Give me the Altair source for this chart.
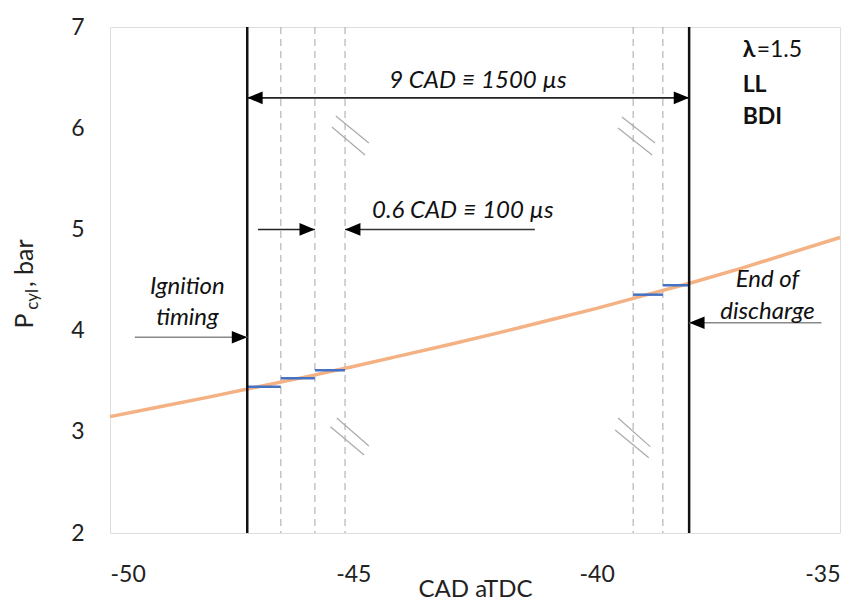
import altair as alt
import pandas as pd

# ---- data ----
cad_curve = [-50, -49, -48, -47, -46, -45, -44, -43, -42, -41, -40, -39, -38, -37, -36, -35]
p_curve = [3.15, 3.245, 3.34, 3.44, 3.54, 3.645, 3.755, 3.865, 3.98, 4.10, 4.22, 4.35, 4.48, 4.62, 4.77, 4.92]

seg_start = [-47.18, -46.49, -45.79, -39.25, -38.64]
seg_end = [-46.49, -45.79, -45.17, -38.64, -38.10]
seg_p = [3.446, 3.529, 3.608, 4.355, 4.448]

dashed_x = [-46.49, -45.79, -45.17, -39.25, -38.64]
event_x = [-47.18, -38.10]

# arrows: line from tail to tip, head at tip
arrow_x = [-47.18, -47.18, -46.96, -41.27, -49.49, -35.38]
arrow_x2 = [-38.10, -38.10, -45.79, -45.17, -47.18, -38.10]
arrow_y = [6.30, 6.30, 5.00, 5.00, 3.934, 4.078]
arrow_tip_x = [-47.18, -38.10, -45.79, -45.17, -47.18, -38.10]
arrow_dir = ["left", "right", "right", "left", "right", "left"]
arrow_color = ["#222222", "#222222", "#222222", "#333333", "#888888", "#888888"]

# break marks "//"
hash_x = [-45.44, -45.36, -39.56, -39.48, -45.34, -45.47, -39.56, -39.62]
hash_x2 = [-44.76, -44.68, -38.86, -38.80, -44.68, -44.78, -38.90, -38.93]
hash_y = [6.012, 6.121, 6.002, 6.111, 3.136, 3.050, 3.136, 3.018]
hash_y2 = [5.735, 5.854, 5.735, 5.854, 2.860, 2.771, 2.853, 2.744]

ital_text = ["9 CAD \u2261 1500 \u00b5s", "0.6 CAD \u2261 100 \u00b5s", "Ignition", "timing", "End of", "discharge"]
ital_x = [-42.44, -42.75, -48.41, -48.41, -36.49, -36.49]
ital_y = [6.47, 5.18, 4.434, 4.125, 4.50, 4.187]

label_text = ["\u03bb", "LL", "BDI"]
label_y = [6.77, 6.43, 6.11]
label_x = -37.0

FONT = "Lato"

xs = alt.Scale(domain=[-50, -35], nice=False)
ys = alt.Scale(domain=[2, 7], nice=False)

xaxis = alt.Axis(values=[-50, -45, -40, -35], title="CAD aTDC", labelFontSize=23,
                 labelExpr="'' + datum.value",
                 titleFontSize=24, labelPadding=30, titlePadding=-9, ticks=False,
                 domain=False, grid=False, labelColor="#222", titleColor="#222",
                 labelFont=FONT, titleFont=FONT, titleFontWeight="normal")
yaxis = alt.Axis(values=[2, 3, 4, 5, 6, 7], title=None, labelFontSize=23, labelPadding=26,
                 labelExpr="'' + datum.value",
                 ticks=False, domain=False, grid=False, labelColor="#222", labelFont=FONT)

curve = alt.Chart(pd.DataFrame({"cad": cad_curve, "p": p_curve})).mark_line(
    color="#F4B183", strokeWidth=3.5).encode(
    x=alt.X("cad:Q", scale=xs, axis=xaxis),
    y=alt.Y("p:Q", scale=ys, axis=yaxis))

dashed = alt.Chart(pd.DataFrame({"x": dashed_x})).mark_rule(
    color="#b5b5b5", strokeWidth=1.2, strokeDash=[7, 5]).encode(
    x=alt.X("x:Q", scale=xs))

events = alt.Chart(pd.DataFrame({"x": event_x})).mark_rule(
    color="#111111", strokeWidth=2.5).encode(x=alt.X("x:Q", scale=xs))

segs = alt.Chart(pd.DataFrame({"x": seg_start, "x2": seg_end, "y": seg_p})).mark_rule(
    color="#4472C4", strokeWidth=2.5).encode(
    x=alt.X("x:Q", scale=xs), x2="x2:Q", y=alt.Y("y:Q", scale=ys))

hashes = alt.Chart(pd.DataFrame({"x": hash_x, "x2": hash_x2, "y": hash_y, "y2": hash_y2})).mark_rule(
    color="#aaaaaa", strokeWidth=1.2).encode(
    x=alt.X("x:Q", scale=xs), x2="x2:Q", y=alt.Y("y:Q", scale=ys), y2="y2:Q")

arr_df = pd.DataFrame({"x": arrow_x, "x2": arrow_x2, "y": arrow_y, "tip": arrow_tip_x,
                       "dir": arrow_dir, "c": arrow_color})
arrow_lines = alt.Chart(arr_df).mark_rule(strokeWidth=1.5).encode(
    x=alt.X("x:Q", scale=xs), x2="x2:Q", y=alt.Y("y:Q", scale=ys),
    color=alt.Color("c:N", scale=None))

head_left = alt.Chart(arr_df[arr_df["dir"] == "left"]).mark_point(
    shape="M0,0 L2.2,-0.9 L2.2,0.9 Z", filled=True, size=196, color="#000", opacity=1).encode(
    x=alt.X("tip:Q", scale=xs), y=alt.Y("y:Q", scale=ys))
head_right = alt.Chart(arr_df[arr_df["dir"] == "right"]).mark_point(
    shape="M0,0 L-2.2,-0.9 L-2.2,0.9 Z", filled=True, size=196, color="#000", opacity=1).encode(
    x=alt.X("tip:Q", scale=xs), y=alt.Y("y:Q", scale=ys))

ital = alt.Chart(pd.DataFrame({"t": ital_text, "x": ital_x, "y": ital_y})).mark_text(
    font=FONT, fontSize=24, fontStyle="italic", color="#111", align="center", baseline="middle").encode(
    x=alt.X("x:Q", scale=xs), y=alt.Y("y:Q", scale=ys), text="t:N")

labels = alt.Chart(pd.DataFrame({"t": label_text, "y": label_y, "x": [label_x] * 3})).mark_text(
    font=FONT, fontSize=23, fontWeight="bold", color="#111", align="left", baseline="middle").encode(
    x=alt.X("x:Q", scale=xs), y=alt.Y("y:Q", scale=ys), text="t:N")
lam_val = alt.Chart(pd.DataFrame({"t": ["=1.5"], "y": [label_y[0]], "x": [label_x]})).mark_text(
    font=FONT, fontSize=23, color="#111", align="left", baseline="middle", dx=14).encode(
    x=alt.X("x:Q", scale=xs), y=alt.Y("y:Q", scale=ys), text="t:N")

# y-axis title: P_cyl, bar
ytitle_text = ["P", "cyl", ", bar"]
ytitle_y = [4.02, 4.205, 4.43]
ytitle_size = [25, 17, 25]
ytitle_dx = [-77, -72, -77]
yt_layers = []
for t, yv, sz, dx in zip(ytitle_text, ytitle_y, ytitle_size, ytitle_dx):
    yt_layers.append(alt.Chart(pd.DataFrame({"t": [t], "y": [yv]})).mark_text(
        font=FONT, fontSize=sz, color="#222", angle=270, align="left", baseline="alphabetic").encode(
        x=alt.value(dx), y=alt.Y("y:Q", scale=ys), text="t:N"))

chart = alt.layer(
    dashed, hashes, curve, segs, events, arrow_lines, head_left, head_right,
    ital, labels, lam_val, *yt_layers
).properties(
    width=730, height=506,
    autosize=alt.AutoSizeParams(type="none"),
    padding={"left": 102, "top": 19, "right": 10, "bottom": 67},
).configure_view(stroke="#111", strokeWidth=2).configure(background="white")

chart.save("out.html", embed_options={"renderer": "svg", "actions": False})
